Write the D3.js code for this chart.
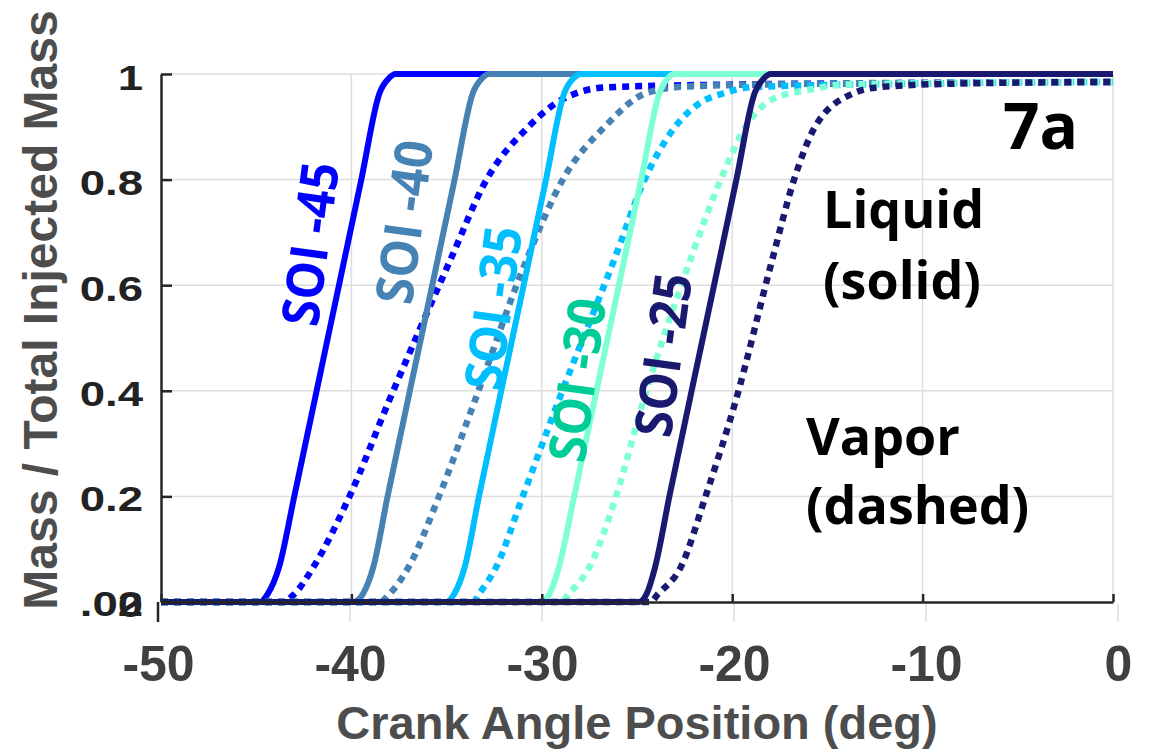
<!DOCTYPE html>
<html><head><meta charset="utf-8">
<script src="https://cdn.jsdelivr.net/npm/d3@7/dist/d3.min.js"></script>
<style>body{margin:0;background:#fff}svg{display:block}</style>
</head><body>
<svg id="chart" width="1150" height="751"></svg>
<script>
// ---- data ----
const soiNames = ["SOI -45","SOI -40","SOI -35","SOI -30","SOI -25"];
const lineColors = ["#0000FF","#4682B4","#00BFFF","#7FFFD4","#191970"];
const labelColors = ["#0000FF","#4682B4","#00BFFF","#00CC99","#191970"];
const xTicks = [-50,-40,-30,-20,-10,0];
const xTickLabels = ["-50","-40","-30","-20","-10","0"];
const yTicks = [0,0.2,0.4,0.6,0.8,1];
const yTickLabels = ["0","0.2","0.4","0.6","0.8","1"];
const yExtraLabel = ".02";

// liquid mass fraction (solid lines): [crank angle, value]
const liquid45 = [[-50,0],[-44.8,0],[-44.4,0.015],[-43.8,0.066],[-43.0,0.2],[-41.24,0.5],[-39.48,0.8],[-38.52,0.964],[-38.0,0.993],[-37.7,1],[0,1]];
const liquid40 = [[-50,0],[-39.9,0],[-39.4,0.015],[-38.85,0.066],[-38.1,0.2],[-36.34,0.5],[-34.58,0.8],[-33.62,0.964],[-33.1,0.993],[-32.8,1],[0,1]];
const liquid35 = [[-50,0],[-35.0,0],[-34.6,0.015],[-34.05,0.066],[-33.3,0.2],[-31.54,0.5],[-29.78,0.8],[-28.82,0.964],[-28.3,0.993],[-27.95,1],[0,1]];
const liquid30 = [[-50,0],[-30.0,0],[-29.6,0.015],[-29.1,0.066],[-28.3,0.2],[-26.54,0.5],[-24.78,0.8],[-23.82,0.964],[-23.35,0.993],[-23.05,1],[0,1]];
const liquid25 = [[-50,0],[-24.9,0],[-24.5,0.015],[-24.05,0.066],[-23.3,0.2],[-21.54,0.5],[-19.78,0.8],[-18.82,0.964],[-18.3,0.993],[-18.0,1],[0,1]];

// vapor mass fraction (dashed lines)
const vapor45 = [[-50,0],[-43.6,0],[-43.0,0.015],[-42.0,0.066],[-40.1,0.2],[-38.0,0.383],[-34.8,0.648],[-32.9,0.8],[-30.7,0.9],[-29.25,0.945],[-28.0,0.966],[-26.5,0.975],[-20,0.98],[-10,0.983],[0,0.985]];
const vapor40 = [[-50,0],[-38.5,0],[-38.0,0.015],[-37.0,0.066],[-35.4,0.2],[-33.5,0.383],[-30.8,0.648],[-28.9,0.8],[-26.7,0.9],[-24.5,0.964],[-22.5,0.976],[-15,0.982],[0,0.985]];
const vapor35 = [[-50,0],[-33.6,0],[-33.3,0.015],[-32.4,0.066],[-31.0,0.2],[-29.1,0.383],[-26.2,0.648],[-24.6,0.8],[-23.0,0.9],[-21.7,0.945],[-20.4,0.964],[-19,0.975],[-10,0.982],[0,0.985]];
const vapor30 = [[-50,0],[-29.0,0],[-28.6,0.015],[-27.5,0.066],[-26.1,0.2],[-24.65,0.383],[-22.2,0.648],[-20.6,0.8],[-19.3,0.9],[-18.0,0.95],[-16,0.97],[-14,0.98],[0,0.985]];
const vapor25 = [[-50,0],[-24.3,0],[-23.9,0.015],[-22.7,0.066],[-21.4,0.2],[-19.8,0.383],[-17.9,0.648],[-16.75,0.8],[-15.65,0.9],[-13.6,0.964],[-12.3,0.975],[-8,0.982],[0,0.985]];

const liquidSeries = [liquid45,liquid40,liquid35,liquid30,liquid25];
const vaporSeries = [vapor45,vapor40,vapor35,vapor30,vapor25];

// label placement (centre of each rotated label)
const soiLabelPos = [[310,244],[404,222],[493,308],[577,380],[663,355]];

// ---- drawing ----
const svg = d3.select("#chart");
const x = d3.scaleLinear().domain([-50,0]).range([161,1113]);
const y = d3.scaleLinear().domain([0,1]).range([602,74]);
const xo = d3.scaleLinear().domain([-50,0]).range([158,1118]);
const yo = d3.scaleLinear().domain([0,1]).range([604,77]);

const grid = "#dedede";
// outer grid stubs below axis
svg.append("g").selectAll("line").data(xTicks.slice(1)).join("line")
  .attr("x1",d=>xo(d)).attr("x2",d=>xo(d)).attr("y1",604).attr("y2",622)
  .attr("stroke",grid).attr("stroke-width",1.5);
svg.append("line").attr("x1",158).attr("x2",158).attr("y1",602).attr("y2",622)
  .attr("stroke","#262626").attr("stroke-width",2.5);

// inner grid
svg.append("g").selectAll("line").data(xTicks.slice(1)).join("line")
  .attr("x1",d=>x(d)).attr("x2",d=>x(d)).attr("y1",y(1)).attr("y2",y(0))
  .attr("stroke",grid).attr("stroke-width",1.5);
svg.append("g").selectAll("line").data(yTicks.slice(1)).join("line")
  .attr("x1",x(-50)).attr("x2",x(0)).attr("y1",d=>y(d)).attr("y2",d=>y(d))
  .attr("stroke",grid).attr("stroke-width",1.5);

// curves
const line = d3.line().x(d=>x(d[0])).y(d=>y(d[1])).curve(d3.curveMonotoneX);
const curves = svg.append("g").attr("fill","none");
for (let i=0;i<5;i++){
  curves.append("path").attr("d",line(liquidSeries[i]))
    .attr("stroke",lineColors[i]).attr("stroke-width",6).attr("stroke-linejoin","round");
  curves.append("path").attr("d",line(vaporSeries[i]))
    .attr("stroke",lineColors[i]).attr("stroke-width",6.5).attr("stroke-dasharray","7,6");
}

// inner axes
const axStroke = "#262626";
const gx = svg.append("g").attr("transform",`translate(0,${y(0)})`)
  .call(d3.axisBottom(x).tickValues(xTicks).tickSizeInner(-8).tickSizeOuter(0).tickFormat(""));
const gy = svg.append("g").attr("transform",`translate(${x(-50)},0)`)
  .call(d3.axisLeft(y).tickValues(yTicks).tickSizeInner(-11).tickSizeOuter(0).tickFormat(""));
[gx,gy].forEach(g=>{
  g.selectAll("path,line").attr("stroke",axStroke).attr("stroke-width",2.5);
  g.selectAll("text").remove();
});

// outer tick labels
const gxo = svg.append("g").call(d3.axisBottom(xo).tickValues(xTicks).tickSize(0).tickFormat((d,i)=>xTickLabels[i]));
gxo.select(".domain").remove();
gxo.selectAll("text").attr("y",681).attr("dy",0)
  .attr("font-family","'Liberation Sans', Arial, sans-serif").attr("font-weight","bold")
  .attr("font-size",50).attr("fill","#404040");

const gyo = svg.append("g").call(d3.axisLeft(yo).tickValues(yTicks).tickSize(0).tickFormat((d,i)=>yTickLabels[i]));
gyo.select(".domain").remove();
gyo.selectAll("text").attr("x",0).attr("dy","0.35em")
  .attr("transform","translate(143,0) scale(1.3,1)").attr("text-anchor","end")
  .attr("font-family","'Liberation Sans', Arial, sans-serif").attr("font-weight","bold")
  .attr("font-size",35).attr("fill","#222");
svg.append("text").attr("transform",`translate(143,${yo(0)}) scale(1.3,1)`)
  .attr("dy","0.35em").attr("text-anchor","end")
  .attr("font-family","'Liberation Sans', Arial, sans-serif").attr("font-weight","bold")
  .attr("font-size",35).attr("fill","#222").text(yExtraLabel);

// axis titles
svg.append("text").attr("x",637).attr("y",739).attr("text-anchor","middle")
  .attr("font-family","'Liberation Sans', Arial, sans-serif").attr("font-weight","bold")
  .attr("font-size",47).attr("fill","#4d4d4d").text("Crank Angle Position (deg)");
svg.append("text").attr("transform","translate(57,310) rotate(-90)").attr("text-anchor","middle")
  .attr("font-family","'Liberation Sans', Arial, sans-serif").attr("font-weight","bold")
  .attr("font-size",48).attr("fill","#4d4d4d").text("Mass / Total Injected Mass");

// SOI labels (slightly tilted, following the curves)
const fontLbl = "'Open Sans', 'Noto Sans', sans-serif";
svg.append("g").selectAll("text").data(soiNames).join("text")
  .attr("transform",(d,i)=>`translate(${soiLabelPos[i][0]},${soiLabelPos[i][1]}) rotate(-82.4) scale(0.93,1)`)
  .attr("dy","0.36em").attr("text-anchor","middle")
  .attr("font-family",fontLbl).attr("font-weight","bold").attr("font-size",52)
  .attr("fill",(d,i)=>labelColors[i]).text(d=>d);

// annotations
const ann = [["7a",1003,149,64],["Liquid",823,228,52],["(solid)",823,299,52],["Vapor",806,455,52],["(dashed)",806,524,52]];
svg.append("g").selectAll("text").data(ann).join("text")
  .attr("x",d=>d[1]).attr("y",d=>d[2]).attr("font-size",d=>d[3])
  .attr("font-family",fontLbl).attr("font-weight","bold").attr("fill","#000").text(d=>d[0]);
</script>
</body></html>
